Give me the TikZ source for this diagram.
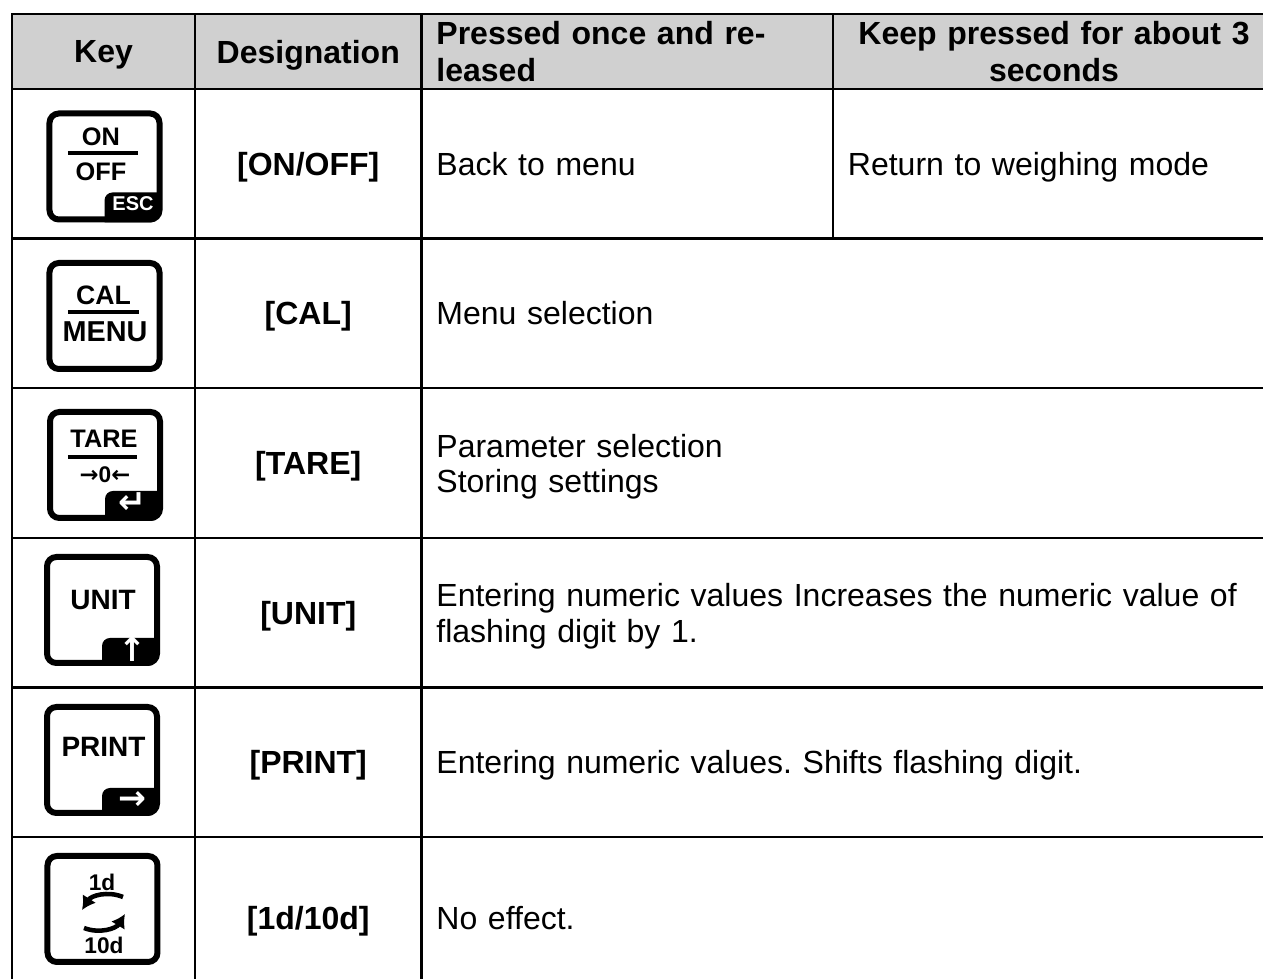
\documentclass[tikz,border=0pt]{standalone}
\usepackage{fontspec}
\usetikzlibrary{arrows.meta}
\setmainfont{Liberation Sans}
\newfontfamily\symf{DejaVu Sans}
\definecolor{headgray}{RGB}{208,208,208}
\frenchspacing
\begin{document}
\begin{tikzpicture}[x=37.5pt,y=37.5pt]
\tikzstyle{every node}=[draw,rectangle,line width=0.9pt,inner xsep=5.6pt,inner ysep=0pt,text depth=0pt,font=\fontsize{12}{13.2}\selectfont]
\tikzstyle{head}=[fill=headgray,minimum height=28.1pt,font=\fontsize{12}{13.9}\selectfont\bfseries]
\tikzstyle{row}=[minimum height=56.1pt]
\tikzstyle{lastrow}=[minimum height=60.75pt]
\tikzstyle{colA}=[minimum width=68.6pt]
\tikzstyle{colB}=[minimum width=84.9pt]
\tikzstyle{colC}=[text width=143.1pt,align=left]
\tikzstyle{colD}=[text width=154.55pt,align=left]
\tikzstyle{colCD}=[text width=308.86pt,align=left]
\tikzstyle{des}=[font=\fontsize{12}{13.2}\selectfont\bfseries]
\tikzstyle{key}=[draw,rounded corners=3.5pt,line width=2.25pt,minimum width=41.25pt,minimum height=39.75pt,inner sep=0pt]
\tikzstyle{keytext}=[draw=none,inner sep=0pt,text depth=,font=\fontsize{9.5}{10}\selectfont\bfseries]
\tikzstyle{notchtext}=[draw=none,inner sep=0pt,text depth=,text=white,font=\fontsize{12.5}{12.5}\selectfont\symf\bfseries]
\tikzstyle{turn}=[line width=1.7pt,-{Latex[length=5pt,width=6pt]}]
\useasboundingbox (0,0) rectangle (12.63,-9.79);
\node[head,colA] (h1) at (1.035,-0.515) {Key};
\node[head,colB] (h2) at (3.0825,-0.515) {Designation};
\node[head,colC,text depth=] (h3) at (6.2725,-0.515) {Pressed once and re-\\leased};
\node[head,colD,align=center,text depth=] (h4) at (10.54,-0.515) {Keep pressed for about 3\\seconds};
\node[row,colA] (a1) at (1.035,-1.638) {};
\node[row,colB,des] (d1) at (3.0825,-1.638) {[ON/OFF]};
\node[row,colC] (t1) at (6.2725,-1.638) {Back to menu};
\node[row,colD] (u1) at (10.54,-1.638) {Return to weighing mode};
\node[row,colA] (a2) at (1.035,-3.134) {};
\node[row,colB,des] (d2) at (3.0825,-3.134) {[CAL]};
\node[row,colCD] (t2) at (8.4825,-3.134) {Menu selection};
\node[row,colA] (a3) at (1.035,-4.63) {};
\node[row,colB,des] (d3) at (3.0825,-4.63) {[TARE]};
\node[row,colCD,text depth=12.9pt] (t3) at (8.4825,-4.63) {Parameter selection\\Storing settings};
\node[row,colA] (a4) at (1.035,-6.126) {};
\node[row,colB,des] (d4) at (3.0825,-6.126) {[UNIT]};
\node[row,colCD,text depth=12.9pt] (t4) at (8.4825,-6.126) {Entering numeric values Increases the numeric value of\\flashing digit by 1.};
\node[row,colA] (a5) at (1.035,-7.622) {};
\node[row,colB,des] (d5) at (3.0825,-7.622) {[PRINT]};
\node[row,colCD] (t5) at (8.4825,-7.622) {Entering numeric values. Shifts flashing digit.};
\node[lastrow,colA] (a6) at (1.035,-9.18) {};
\node[lastrow,colB,des] (d6) at (3.0825,-9.18) {[1d/10d]};
\node[lastrow,colCD] (t6) at (8.4825,-9.18) {No effect.};

\node[key] (k1) at (1.045,-1.665) {};
\fill (k1.south) -- ++(0,0.22) arc[start angle=180,end angle=90,radius=0.08] -- ++(0.47,0) -- ++(0,-0.2067) arc[start angle=0,end angle=-90,radius=0.0933] -- cycle;
\node[keytext] (on) at (1.01,-1.37) {ON};
\draw[line width=1.3pt] (0.68,-1.53) -- (1.38,-1.53);
\node[keytext] (off) at (1.01,-1.72) {OFF};
\node[notchtext,font=\fontsize{7.5}{8}\selectfont\bfseries] (esc) at (1.33,-2.04) {ESC};

\node[key] (k2) at (1.045,-3.16) {};
\node[keytext,font=\fontsize{10}{10}\selectfont\bfseries] (cal) at (1.035,-2.95) {CAL};
\draw[line width=1.3pt] (0.68,-3.12) -- (1.39,-3.12);
\node[keytext,font=\fontsize{10.8}{11}\selectfont\bfseries] (menu) at (1.05,-3.32) {MENU};

\node[key] (k3) at (1.05,-4.65) {};
\fill (k3.south) -- ++(0,0.22) arc[start angle=180,end angle=90,radius=0.08] -- ++(0.47,0) -- ++(0,-0.2067) arc[start angle=0,end angle=-90,radius=0.0933] -- cycle;
\node[keytext] (tare) at (1.04,-4.39) {TARE};
\draw[line width=1.3pt] (0.68,-4.57) -- (1.37,-4.57);
\node[keytext,font=\fontsize{8.5}{9}\selectfont\bfseries] (zero) at (1.05,-4.75) {{\symf →}0{\symf ←}};
\node[notchtext] (enter) at (1.32,-5.03) {↵};

\node[key] (k4) at (1.02,-6.10) {};
\fill (k4.south) -- ++(0,0.20) arc[start angle=180,end angle=90,radius=0.08] -- ++(0.47,0) -- ++(0,-0.1867) arc[start angle=0,end angle=-90,radius=0.0933] -- cycle;
\node[keytext,font=\fontsize{10.5}{11}\selectfont\bfseries] (unit) at (1.03,-6.00) {UNIT};
\node[notchtext] (up) at (1.32,-6.49) {↑};

\node[key] (k5) at (1.02,-7.60) {};
\fill (k5.south) -- ++(0,0.20) arc[start angle=180,end angle=90,radius=0.08] -- ++(0.47,0) -- ++(0,-0.1867) arc[start angle=0,end angle=-90,radius=0.0933] -- cycle;
\node[keytext,font=\fontsize{10.5}{11}\selectfont\bfseries] (print) at (1.035,-7.47) {PRINT};
\node[notchtext] (right) at (1.32,-8.01) {→};

\node[key] (k6) at (1.025,-9.09) {};
\node[keytext,font=\fontsize{8.5}{9}\selectfont\bfseries] (one) at (1.02,-8.82) {1d};
\node[keytext,font=\fontsize{8.5}{9}\selectfont\bfseries] (ten) at (1.04,-9.45) {10d};
\draw[turn] (1.23,-8.97) to[bend right=40] (0.82,-9.10);
\draw[turn] (0.84,-9.28) to[bend right=40] (1.25,-9.14);
\end{tikzpicture}
\end{document}
